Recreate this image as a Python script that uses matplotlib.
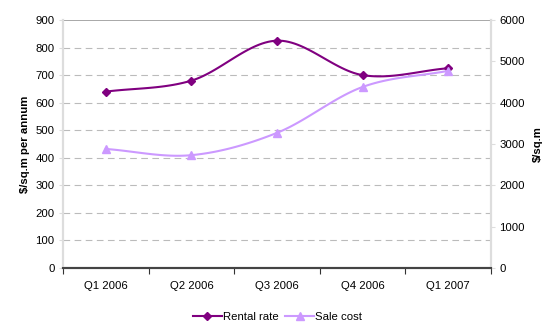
import numpy as np
import matplotlib
matplotlib.use('Agg')
import matplotlib.pyplot as plt

plt.rcParams['font.family'] = ['Liberation Sans', 'DejaVu Sans']

quarters = ['Q1 2006', 'Q2 2006', 'Q3 2006', 'Q4 2006', 'Q1 2007']
rental_rate = [640, 680, 825, 700, 725]
sale_cost = [2880, 2730, 3270, 4380, 4770]

rental_col = '#800080'
sale_col = '#CC99FF'
fs = 8.2


def smooth(x, y, n=30):
    # catmull-rom curve through the points, like excel's smoothed line
    x = np.asarray(x, float)
    y = np.asarray(y, float)
    px = np.concatenate([[2 * x[0] - x[1]], x, [2 * x[-1] - x[-2]]])
    py = np.concatenate([[2 * y[0] - y[1]], y, [2 * y[-1] - y[-2]]])
    xs, ys = [], []
    t = np.linspace(0, 1, n)
    for i in range(1, len(px) - 2):
        for p, out in ((px, xs), (py, ys)):
            p0, p1, p2, p3 = p[i - 1], p[i], p[i + 1], p[i + 2]
            out.append(0.5 * (2 * p1 + (-p0 + p2) * t
                              + (2 * p0 - 5 * p1 + 4 * p2 - p3) * t ** 2
                              + (-p0 + 3 * p1 - 3 * p2 + p3) * t ** 3))
    return np.concatenate(xs), np.concatenate(ys)


fig = plt.figure(figsize=(5.55, 3.22), dpi=100)
ax = fig.add_axes([0.1135, 0.1677, 0.7712, 0.7702])
ax2 = ax.twinx()

xpos = np.arange(len(quarters))

sx, sy = smooth(xpos, rental_rate)
ax.plot(sx, sy, color=rental_col, lw=1.5, zorder=3)
ax.plot(xpos, rental_rate, 'D', color=rental_col, ms=4.5, zorder=4)

sx2, sy2 = smooth(xpos, sale_cost)
ax2.plot(sx2, sy2, color=sale_col, lw=1.5, zorder=3)
ax2.plot(xpos, sale_cost, '^', color=sale_col, ms=6, zorder=4)

ax.set_xlim(-0.5, len(quarters) - 0.5)
ax.set_ylim(0, 900)
ax2.set_ylim(0, 6000)
ax.set_yticks(range(0, 901, 100))
ax2.set_yticks(range(0, 6001, 1000))

ax.set_xticks(np.arange(-0.5, len(quarters), 1))
ax.set_xticklabels([])
ax.set_xticks(xpos, minor=True)
ax.set_xticklabels(quarters, minor=True)
ax.tick_params(axis='x', which='major', length=4, color='#333333')
ax.tick_params(axis='x', which='minor', length=0, pad=9, labelsize=fs)

for y in range(100, 900, 100):
    ax.axhline(y, color='#bbbbbb', lw=0.8, ls=(0, (6, 4)), zorder=1)
ax.axhline(900, color='#999999', lw=1.2, zorder=1)

ax.tick_params(axis='y', length=3, color='#dddddd', labelsize=fs, pad=3)
ax2.tick_params(axis='y', length=3, color='#dddddd', labelsize=fs, pad=3)

for a in (ax, ax2):
    a.spines['top'].set_visible(False)
    a.spines['left'].set_color('#dddddd')
    a.spines['right'].set_color('#dddddd')
    a.spines['left'].set_linewidth(1.5)
    a.spines['right'].set_linewidth(1.5)
    a.spines['bottom'].set_color('#444444')
    a.spines['bottom'].set_linewidth(1.5)

ax.set_ylabel('$/sq.m per annum', fontsize=fs, fontweight='bold', labelpad=4)
ax2.set_ylabel('$/sq.m', fontsize=fs, fontweight='bold', labelpad=6)

h1 = plt.Line2D([], [], color=rental_col, marker='D', ms=4.5, lw=1.5)
h2 = plt.Line2D([], [], color=sale_col, marker='^', ms=6, lw=1.5)
fig.legend([h1, h2], ['Rental rate', 'Sale cost'], loc='center',
           bbox_to_anchor=(0.5, 0.017), ncol=2, frameon=False, fontsize=fs,
           handlelength=2.5, handletextpad=0.1, columnspacing=0.6)

fig.savefig('out.png', dpi=100)
